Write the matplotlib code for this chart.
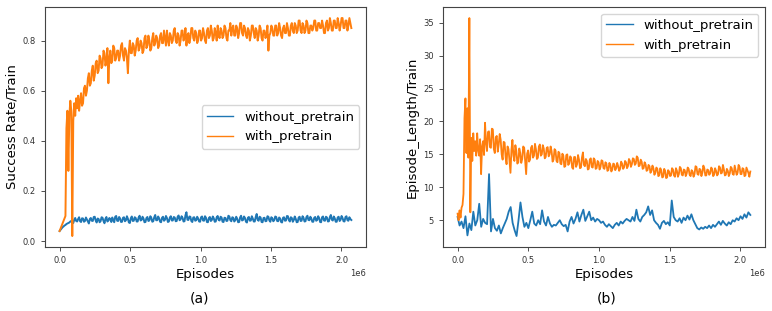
import numpy as np
import matplotlib.pyplot as plt

# training logs up to ~2.07e6 episodes
last_episode = 2.07e6

# (a) Success Rate/Train  (300 logged points)
success_with = [
    0.04, 0.05, 0.06, 0.07, 0.08, 0.09, 0.10, 0.45, 0.52, 0.28,
    0.50, 0.56, 0.52, 0.02, 0.48, 0.55, 0.50, 0.57, 0.53, 0.58,
    0.52, 0.56, 0.59, 0.54, 0.55, 0.61, 0.62, 0.58, 0.60, 0.65,
    0.67, 0.62, 0.63, 0.68, 0.70, 0.64, 0.66, 0.71, 0.72, 0.67,
    0.68, 0.74, 0.73, 0.69, 0.70, 0.76, 0.75, 0.70, 0.72, 0.77,
    0.63, 0.73, 0.76, 0.71, 0.72, 0.78, 0.77, 0.72, 0.73, 0.76,
    0.76, 0.72, 0.74, 0.78, 0.79, 0.74, 0.72, 0.77, 0.76, 0.73,
    0.67, 0.76, 0.80, 0.75, 0.75, 0.79, 0.78, 0.74, 0.76, 0.80,
    0.81, 0.76, 0.77, 0.80, 0.79, 0.75, 0.76, 0.81, 0.82, 0.77,
    0.78, 0.82, 0.80, 0.76, 0.77, 0.81, 0.83, 0.78, 0.79, 0.82,
    0.81, 0.77, 0.78, 0.82, 0.83, 0.79, 0.79, 0.84, 0.81, 0.78,
    0.84, 0.80, 0.78, 0.83, 0.82, 0.79, 0.80, 0.84, 0.85, 0.80,
    0.79, 0.83, 0.82, 0.78, 0.80, 0.84, 0.84, 0.80, 0.81, 0.85,
    0.78, 0.82, 0.83, 0.79, 0.81, 0.85, 0.85, 0.81, 0.80, 0.84,
    0.83, 0.79, 0.80, 0.84, 0.84, 0.80, 0.81, 0.85, 0.83, 0.80,
    0.79, 0.84, 0.85, 0.81, 0.82, 0.86, 0.84, 0.80, 0.81, 0.85,
    0.83, 0.80, 0.86, 0.82, 0.81, 0.85, 0.84, 0.81, 0.82, 0.86,
    0.85, 0.81, 0.80, 0.84, 0.84, 0.87, 0.82, 0.85, 0.86, 0.82,
    0.82, 0.86, 0.85, 0.81, 0.83, 0.87, 0.87, 0.83, 0.82, 0.86,
    0.85, 0.82, 0.81, 0.85, 0.84, 0.80, 0.82, 0.86, 0.86, 0.83,
    0.81, 0.85, 0.84, 0.80, 0.82, 0.86, 0.85, 0.81, 0.80, 0.84,
    0.84, 0.81, 0.82, 0.86, 0.76, 0.82, 0.83, 0.86, 0.85, 0.82,
    0.82, 0.86, 0.86, 0.82, 0.83, 0.87, 0.85, 0.82, 0.81, 0.85,
    0.86, 0.83, 0.83, 0.87, 0.85, 0.82, 0.82, 0.86, 0.87, 0.84,
    0.83, 0.87, 0.86, 0.83, 0.84, 0.88, 0.88, 0.84, 0.83, 0.87,
    0.86, 0.83, 0.84, 0.88, 0.87, 0.83, 0.83, 0.86, 0.86, 0.84,
    0.85, 0.88, 0.88, 0.84, 0.84, 0.87, 0.87, 0.85, 0.85, 0.88,
    0.86, 0.83, 0.83, 0.87, 0.88, 0.84, 0.85, 0.89, 0.87, 0.84,
    0.84, 0.88, 0.88, 0.85, 0.85, 0.89, 0.87, 0.84, 0.86, 0.89,
    0.89, 0.85, 0.85, 0.88, 0.88, 0.84, 0.86, 0.89, 0.87, 0.85,
]
success_without = [
    0.040, 0.045, 0.050, 0.055, 0.058, 0.062, 0.064, 0.068, 0.070, 0.072,
    0.074, 0.078, 0.080, 0.076, 0.072, 0.085, 0.092, 0.080, 0.078, 0.088,
    0.095, 0.079, 0.076, 0.091, 0.090, 0.077, 0.080, 0.094, 0.086, 0.078,
    0.070, 0.088, 0.092, 0.081, 0.080, 0.096, 0.097, 0.082, 0.074, 0.090,
    0.088, 0.075, 0.079, 0.095, 0.093, 0.080, 0.071, 0.089, 0.096, 0.078,
    0.082, 0.092, 0.087, 0.076, 0.094, 0.083, 0.075, 0.097, 0.100, 0.081,
    0.080, 0.096, 0.090, 0.076, 0.077, 0.093, 0.095, 0.079, 0.083, 0.099,
    0.089, 0.074, 0.072, 0.091, 0.098, 0.080, 0.081, 0.095, 0.092, 0.078,
    0.078, 0.094, 0.101, 0.082, 0.084, 0.097, 0.090, 0.075, 0.076, 0.092,
    0.096, 0.080, 0.082, 0.099, 0.093, 0.077, 0.079, 0.095, 0.104, 0.083,
    0.083, 0.098, 0.091, 0.077, 0.075, 0.093, 0.097, 0.081, 0.085, 0.100,
    0.092, 0.076, 0.078, 0.094, 0.099, 0.082, 0.082, 0.096, 0.094, 0.079,
    0.080, 0.097, 0.102, 0.083, 0.086, 0.099, 0.093, 0.078, 0.079, 0.103,
    0.115, 0.085, 0.084, 0.098, 0.097, 0.080, 0.076, 0.094, 0.095, 0.081,
    0.083, 0.097, 0.090, 0.078, 0.077, 0.095, 0.098, 0.082, 0.081, 0.099,
    0.093, 0.076, 0.075, 0.092, 0.096, 0.080, 0.084, 0.098, 0.091, 0.077,
    0.078, 0.095, 0.100, 0.084, 0.082, 0.097, 0.094, 0.077, 0.076, 0.093,
    0.092, 0.080, 0.081, 0.101, 0.098, 0.083, 0.079, 0.095, 0.093, 0.078,
    0.083, 0.097, 0.089, 0.075, 0.076, 0.094, 0.101, 0.082, 0.084, 0.098,
    0.092, 0.077, 0.074, 0.093, 0.096, 0.081, 0.082, 0.099, 0.090, 0.078,
    0.078, 0.096, 0.108, 0.084, 0.081, 0.097, 0.094, 0.076, 0.075, 0.092,
    0.093, 0.079, 0.080, 0.099, 0.097, 0.082, 0.077, 0.095, 0.091, 0.079,
    0.083, 0.098, 0.096, 0.080, 0.079, 0.094, 0.090, 0.076, 0.074, 0.093,
    0.095, 0.081, 0.082, 0.100, 0.099, 0.083, 0.078, 0.095, 0.092, 0.077,
    0.084, 0.098, 0.089, 0.075, 0.076, 0.094, 0.097, 0.080, 0.081, 0.099,
    0.093, 0.078, 0.079, 0.096, 0.101, 0.084, 0.083, 0.097, 0.090, 0.077,
    0.077, 0.093, 0.096, 0.081, 0.084, 0.099, 0.092, 0.076, 0.075, 0.095,
    0.098, 0.082, 0.081, 0.097, 0.094, 0.078, 0.079, 0.096, 0.104, 0.085,
    0.082, 0.098, 0.091, 0.077, 0.077, 0.094, 0.097, 0.080, 0.085, 0.100,
    0.092, 0.079, 0.078, 0.096, 0.099, 0.083, 0.081, 0.095, 0.088, 0.084,
]

# (b) Episode_Length/Train
length_with = [
    6.0, 5.0, 6.5, 5.4, 6.9, 7.3, 9.0, 20.5, 23.5, 15.2,
    22.0, 14.5, 35.7, 6.2, 17.5, 14.0, 18.2, 15.5, 17.0, 14.8,
    18.2, 15.6, 14.8, 17.3, 12.0, 16.2, 17.0, 14.9, 19.8, 16.8,
    15.5, 18.4, 18.5, 16.1, 16.0, 18.9, 18.8, 15.8, 15.2, 17.6,
    17.8, 15.4, 16.5, 18.1, 17.2, 15.0, 14.2, 16.9, 16.8, 14.6,
    13.5, 16.2, 15.8, 13.9, 12.2, 15.7, 17.2, 14.8, 14.0, 16.4,
    15.5, 13.6, 13.8, 15.9, 15.2, 13.7, 14.3, 16.2, 16.0, 14.1,
    12.0, 15.1, 15.6, 13.9, 14.2, 16.0, 16.3, 14.5, 14.8, 16.6,
    15.8, 14.3, 14.5, 16.2, 16.5, 14.8, 15.0, 16.4, 15.9, 14.4,
    14.6, 16.0, 16.1, 14.7, 15.0, 16.2, 15.5, 13.9, 14.2, 15.8,
    15.6, 14.0, 13.8, 15.4, 15.2, 13.6, 13.5, 15.1, 14.8, 13.1,
    13.2, 14.9, 15.0, 13.4, 13.6, 14.7, 14.5, 13.0, 12.8, 14.6,
    14.6, 13.1, 13.5, 14.9, 14.2, 12.9, 13.0, 14.5, 15.3, 13.4,
    13.2, 14.3, 14.0, 12.7, 12.8, 14.2, 14.4, 13.1, 13.0, 14.4,
    14.2, 12.8, 12.9, 14.0, 13.8, 12.7, 13.1, 14.1, 14.0, 12.9,
    12.8, 13.8, 13.6, 12.5, 12.6, 13.7, 13.4, 12.4, 12.7, 13.6,
    13.5, 12.6, 12.9, 13.7, 13.2, 12.5, 12.8, 13.9, 13.6, 12.8,
    13.0, 14.0, 13.8, 12.9, 13.2, 14.3, 14.0, 13.1, 13.5, 14.4,
    14.3, 13.4, 13.6, 14.7, 14.5, 13.2, 13.3, 14.2, 13.9, 12.8,
    12.9, 13.8, 13.5, 12.5, 12.6, 13.4, 13.2, 12.2, 12.5, 13.3,
    12.9, 11.9, 12.2, 13.0, 12.8, 11.7, 11.8, 12.9, 12.6, 11.5,
    11.6, 12.8, 12.5, 11.4, 11.5, 12.6, 12.4, 11.7, 11.8, 12.9,
    12.7, 11.8, 11.6, 12.9, 12.5, 11.6, 12.0, 13.1, 12.9, 11.9,
    11.8, 12.7, 12.6, 11.7, 12.1, 13.0, 12.8, 11.9, 11.7, 12.6,
    12.4, 11.6, 12.0, 13.2, 13.1, 12.0, 11.9, 12.8, 12.7, 11.7,
    12.2, 13.3, 12.9, 11.8, 11.8, 12.7, 12.6, 11.9, 12.1, 13.0,
    12.8, 11.7, 11.9, 12.9, 12.5, 11.8, 12.0, 13.2, 13.0, 12.1,
    12.2, 13.4, 12.7, 11.8, 11.9, 12.8, 12.5, 11.7, 12.1, 13.1,
    12.9, 12.0, 11.9, 13.3, 12.6, 11.9, 12.2, 13.4, 13.1, 12.0,
    12.0, 12.9, 12.8, 11.7, 11.8, 13.0, 12.6, 12.2, 11.6, 12.4,
]
length_without = [
    5.5, 4.2, 4.8, 3.8, 5.6, 2.7, 4.5, 3.5, 6.3, 4.2,
    5.0, 7.5, 4.0, 5.2, 4.6, 4.4, 12.0, 3.3, 5.2, 3.8,
    3.4, 4.2, 3.0, 3.8, 4.5, 5.2, 6.3, 7.0, 4.6, 3.5,
    2.6, 5.0, 7.7, 5.5, 4.0, 4.6, 3.8, 5.0, 6.3, 4.5,
    4.2, 5.0, 4.4, 6.5, 4.8, 4.2, 5.5, 4.5, 4.0, 4.3,
    4.2, 4.6, 5.0, 4.4, 4.1, 4.3, 3.3, 4.8, 5.5, 4.5,
    5.2, 6.2, 4.8, 5.8, 6.6, 4.9, 5.6, 6.3, 5.0, 5.4,
    4.8, 5.2, 5.0, 4.6, 4.8, 4.3, 4.0, 4.4, 4.1, 3.8,
    4.3, 4.6, 4.2, 4.8, 4.5, 4.9, 5.2, 5.0, 4.8, 5.5,
    4.9, 6.6, 5.2, 4.8, 5.5, 5.8, 6.2, 7.1, 5.8, 6.5,
    5.0, 4.6, 4.3, 3.7, 4.6, 4.9, 4.4, 4.7, 4.2, 8.0,
    5.5, 5.0, 4.8, 5.3, 4.6, 5.4, 5.0, 5.7, 5.1, 5.9,
    5.0, 4.4, 3.8, 3.6, 3.9, 3.7, 4.0, 3.8, 4.2, 3.8,
    4.3, 4.0, 4.4, 4.8, 4.3, 4.9, 4.5, 4.2, 4.7, 4.4,
    5.0, 4.8, 5.3, 5.0, 5.6, 5.2, 5.9, 5.4, 6.2, 5.8,
]

episodes_fine = np.linspace(0, last_episode, len(success_with))
episodes_coarse = np.linspace(0, last_episode, len(length_without))

fig = plt.figure(figsize=(7.72, 3.11), dpi=100)
ax1 = fig.add_axes([0.0583, 0.206, 0.4157, 0.771])
ax2 = fig.add_axes([0.5738, 0.206, 0.4171, 0.771])

ax1.plot(episodes_fine, success_without, color='#1f77b4', lw=1.4, label='without_pretrain')
ax1.plot(episodes_fine, success_with, color='#ff7f0e', lw=1.4, label='with_pretrain')
ax2.plot(episodes_coarse, length_without, color='#1f77b4', lw=1.3, label='without_pretrain')
ax2.plot(episodes_fine, length_with, color='#ff7f0e', lw=1.3, label='with_pretrain')

for ax, ylabel, loc in [(ax1, 'Success Rate/Train', 'center right'),
                        (ax2, 'Episode_Length/Train', 'upper right')]:
    ax.set_xlabel('Episodes', fontsize=9.5, labelpad=2)
    ax.set_ylabel(ylabel, fontsize=9.5, labelpad=3)
    ax.tick_params(labelsize=6, length=3, width=0.6, colors='#333333')
    ax.xaxis.get_offset_text().set_fontsize(6)
    for sp in ax.spines.values():
        sp.set_color('#444444')
        sp.set_linewidth(0.8)
    leg = ax.legend(loc=loc, fontsize=9.5)
    # thinner handles in the legend, like the original
    for line in leg.get_lines():
        line.set_linewidth(1.0)

ax1.set_yticks([0.0, 0.2, 0.4, 0.6, 0.8])
ax2.set_yticks([5, 10, 15, 20, 25, 30, 35])

fig.text(0.259, 0.04, '(a)', ha='center', va='center', fontsize=10)
fig.text(0.786, 0.04, '(b)', ha='center', va='center', fontsize=10)

fig.savefig('out.png', dpi=100)
